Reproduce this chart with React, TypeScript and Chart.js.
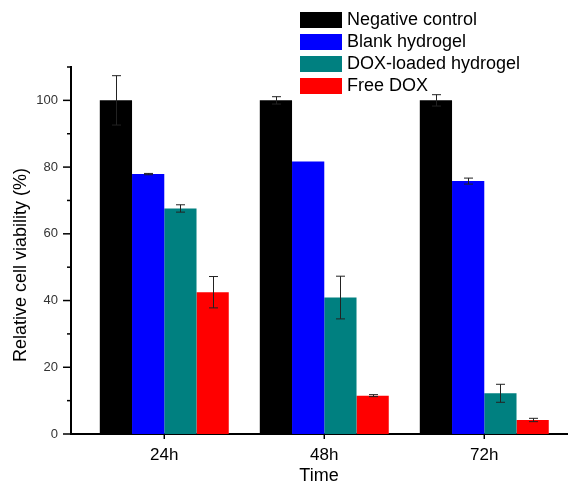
import React, { useEffect, useRef } from 'react';
import { Chart, registerables } from 'chart.js';

Chart.register(...registerables);

const categories = ['24h', '48h', '72h'];
const seriesLabels = ['Negative control', 'Blank hydrogel', 'DOX-loaded hydrogel', 'Free DOX'];
const seriesColors = ['#000000', '#0000ff', '#008080', '#ff0000'];

const negativeControl = [100, 100, 100];
const negativeControlErr = [7.4, 1.1, 1.7];
const blankHydrogel = [77.9, 81.7, 75.8];
const blankHydrogelErr = [0.2, 0, 0.9];
const doxHydrogel = [67.6, 40.9, 12.2];
const doxHydrogelErr = [1.1, 6.4, 2.7];
const freeDox = [42.5, 11.5, 4.2];
const freeDoxErr = [4.7, 0.3, 0.5];

const yTickValues = [0, 10, 20, 30, 40, 50, 60, 70, 80, 90, 100, 110];

const FONT = "'Liberation Sans', Arial, sans-serif";

const seriesValues = [negativeControl, blankHydrogel, doxHydrogel, freeDox];
const seriesErrors = [negativeControlErr, blankHydrogelErr, doxHydrogelErr, freeDoxErr];

const errorBarPlugin = {
  id: 'errorBars',
  afterDatasetsDraw(chart: any) {
    const ctx = chart.ctx;
    const y = chart.scales.y;
    ctx.save();
    ctx.strokeStyle = '#222';
    ctx.lineWidth = 1;
    chart.data.datasets.forEach((ds: any, i: number) => {
      const meta = chart.getDatasetMeta(i);
      meta.data.forEach((bar: any, j: number) => {
        const v = seriesValues[i][j];
        const e = seriesErrors[i][j];
        if (!e) return;
        const x = Math.round(bar.x) + 0.5;
        const top = y.getPixelForValue(v + e);
        const bot = y.getPixelForValue(v - e);
        ctx.beginPath();
        ctx.moveTo(x, top);
        ctx.lineTo(x, bot);
        ctx.moveTo(x - 4.5, top);
        ctx.lineTo(x + 4.5, top);
        ctx.moveTo(x - 4.5, bot);
        ctx.lineTo(x + 4.5, bot);
        ctx.stroke();
      });
    });
    ctx.restore();
  },
};

const decorPlugin = {
  id: 'decor',
  afterDraw(chart: any) {
    const ctx = chart.ctx;
    const { left, top, bottom, right } = chart.chartArea;
    const ys = chart.scales.y;
    const xs = chart.scales.x;
    ctx.save();
    ctx.strokeStyle = '#000';
    ctx.lineWidth = 1.5;
    ys.ticks.forEach((t: any) => {
      const py = ys.getPixelForValue(t.value);
      const len = t.value % 20 === 0 ? 8 : 4;
      ctx.beginPath();
      ctx.moveTo(left - len, py);
      ctx.lineTo(left, py);
      ctx.stroke();
    });
    xs.ticks.forEach((t: any) => {
      const px = xs.getPixelForValue(t.value);
      ctx.beginPath();
      ctx.moveTo(px, bottom);
      ctx.lineTo(px, bottom + 5);
      ctx.stroke();
    });
    ctx.fillStyle = '#000';
    ctx.font = `18px ${FONT}`;
    ctx.textAlign = 'center';
    ctx.textBaseline = 'middle';
    ctx.fillText('Time', (left + right) / 2, 476);
    ctx.save();
    ctx.translate(21, 265);
    ctx.rotate(-Math.PI / 2);
    ctx.fillText('Relative cell viability (%)', 0, 0);
    ctx.restore();
    ctx.textAlign = 'left';
    chart.data.datasets.forEach((ds: any, i: number) => {
      const by = 12 + i * 22;
      ctx.fillStyle = ds.backgroundColor;
      ctx.fillRect(300, by, 42, 16);
      ctx.fillStyle = '#000';
      ctx.fillText(ds.label, 347, by + 8.5);
    });
    ctx.restore();
  },
};

export default function App() {
  const ref = useRef<HTMLCanvasElement | null>(null);
  useEffect(() => {
    if (!ref.current) return;
    const chart = new Chart(ref.current, {
      type: 'bar',
      data: {
        datasets: seriesLabels.map((label, i) => ({
          label,
          data: seriesValues[i].map((v, j) => ({ x: j + 1, y: v })),
          backgroundColor: seriesColors[i],
          borderWidth: 0,
          categoryPercentage: 0.806,
          barPercentage: 1,
        })),
      },
      options: {
        animation: false,
        responsive: true,
        maintainAspectRatio: false,
        layout: { padding: { top: 67, right: 1, left: 0, bottom: 0 } },
        plugins: { legend: { display: false }, tooltip: { enabled: false } },
        scales: {
          x: {
            type: 'linear',
            min: 0.417,
            max: 3.517,
            offset: false,
            grid: { display: false },
            border: { display: true, color: '#000', width: 2 },
            afterBuildTicks: (scale: any) => {
              scale.ticks = categories.map((_, i) => ({ value: i + 1 }));
            },
            afterFit: (scale: any) => {
              scale.height = 49;
            },
            ticks: {
              autoSkip: false,
              maxRotation: 0,
              padding: 3,
              color: '#000',
              font: { family: FONT, size: 17 },
              callback: (v: any) => categories[Number(v) - 1] ?? '',
            },
          },
          y: {
            min: 0,
            max: 110,
            grid: { display: false },
            border: { display: true, color: '#000', width: 2 },
            afterBuildTicks: (scale: any) => {
              scale.ticks = yTickValues.map((v) => ({ value: v }));
            },
            afterFit: (scale: any) => {
              scale.width = 71;
            },
            ticks: {
              autoSkip: false,
              padding: 5,
              color: '#333',
              font: { family: FONT, size: 13 },
              callback: (v: any) => (Number(v) % 20 === 0 && Number(v) <= 100 ? String(v) : ''),
            },
          },
        },
      },
      plugins: [errorBarPlugin, decorPlugin],
    } as any);
    return () => chart.destroy();
  }, []);
  return (
    <div style={{ position: 'absolute', left: 0, top: 0, width: 568, height: 483, background: '#fff' }}>
      <canvas ref={ref} />
    </div>
  );
}
